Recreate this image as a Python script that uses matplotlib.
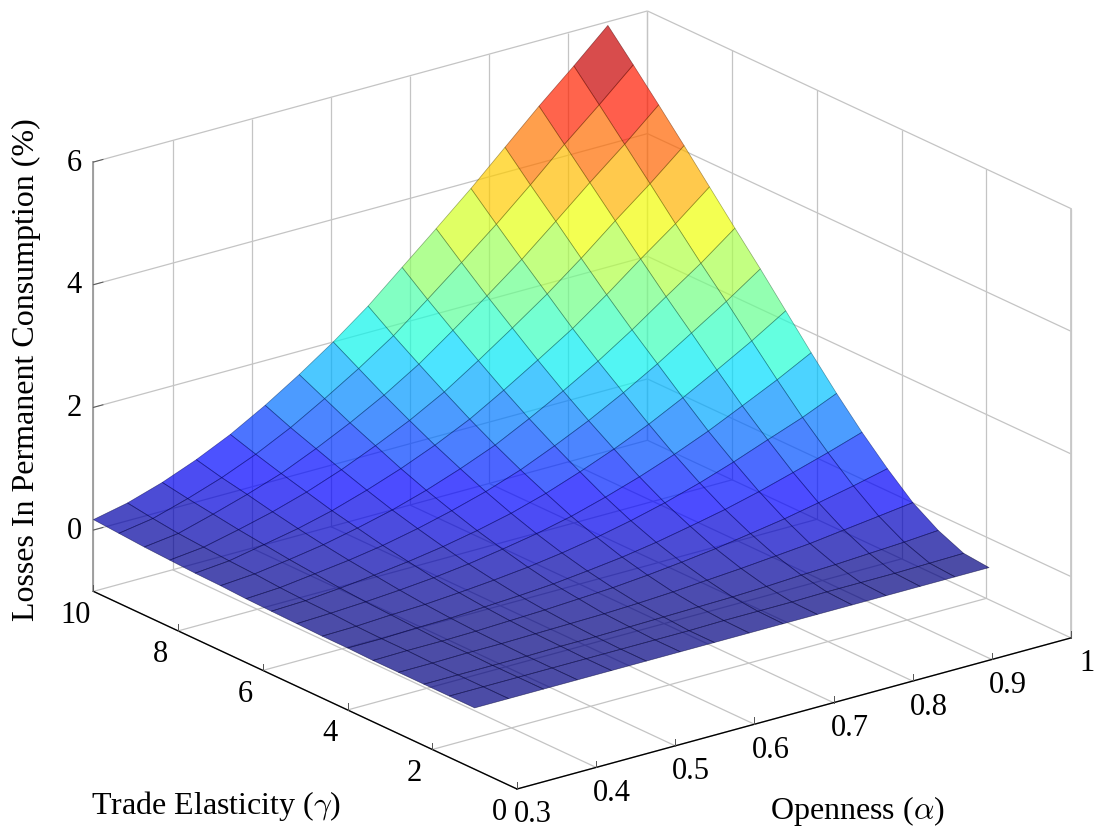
import numpy as np
import matplotlib
matplotlib.use("Agg")
import matplotlib.pyplot as plt
from mpl_toolkits.mplot3d import proj3d

alpha_nodes = [.300, .343, .387, .430, .473, .517, .560, .603, .647, .690, .733, .777, .820, .863, .907, .950]
gamma_nodes = [1.0, 1.6, 2.2, 2.8, 3.4, 4.0, 4.6, 5.2, 5.8, 6.4, 7.0, 7.6, 8.2, 8.8, 9.4, 10.0]

z00 = [0, 0, 0, 0, 0, .01, .01, .02, .03, .04, .06, .07, .09, .11, .14, .17]
z01 = [0, 0, 0, 0, .01, .01, .02, .04, .05, .07, .10, .12, .15, .18, .23, .29]
z02 = [0, 0, 0, .01, .01, .03, .05, .07, .10, .14, .18, .23, .28, .34, .40, .47]
z03 = [0, 0, 0, .01, .02, .04, .07, .11, .16, .21, .27, .34, .42, .51, .59, .69]
z04 = [0, 0, .01, .02, .04, .07, .11, .16, .23, .30, .39, .48, .59, .70, .82, .95]
z05 = [0, 0, .01, .03, .06, .10, .16, .23, .32, .42, .53, .66, .80, .95, 1.10, 1.27]
z06 = [0, 0, .02, .04, .09, .14, .22, .32, .43, .56, .70, .86, 1.04, 1.22, 1.42, 1.62]
z07 = [0, 0, .03, .06, .12, .20, .30, .42, .56, .72, .90, 1.09, 1.30, 1.52, 1.76, 2.00]
z08 = [0, .01, .04, .09, .17, .27, .40, .55, .73, .92, 1.13, 1.36, 1.61, 1.87, 2.14, 2.43]
z09 = [0, .01, .05, .13, .23, .36, .52, .71, .93, 1.16, 1.41, 1.68, 1.97, 2.27, 2.58, 2.91]
z10 = [0, .01, .07, .17, .30, .47, .66, .89, 1.15, 1.42, 1.71, 2.02, 2.35, 2.68, 3.03, 3.39]
z11 = [0, .02, .10, .22, .39, .59, .83, 1.10, 1.40, 1.72, 2.04, 2.38, 2.75, 3.12, 3.50, 3.89]
z12 = [0, .02, .12, .27, .48, .73, 1.02, 1.33, 1.68, 2.04, 2.40, 2.78, 3.18, 3.59, 3.99, 4.41]
z13 = [0, .02, .15, .34, .59, .89, 1.23, 1.59, 1.98, 2.39, 2.79, 3.21, 3.64, 4.07, 4.50, 4.93]
z14 = [0, .03, .18, .41, .71, 1.06, 1.44, 1.86, 2.30, 2.75, 3.18, 3.63, 4.09, 4.54, 4.99, 5.43]
z15 = [0, .04, .22, .48, .84, 1.24, 1.68, 2.15, 2.64, 3.13, 3.60, 4.08, 4.56, 5.03, 5.49, 5.94]

alpha_ticks = [.3, .4, .5, .6, .7, .8, .9, 1.0]
alpha_labels = ["0.3", "0.4", "0.5", "0.6", "0.7", "0.8", "0.9", "1"]
gamma_ticks = [0, 2, 4, 6, 8, 10]
gamma_labels = ["0", "2", "4", "6", "8", "10"]
z_ticks = [0, 2, 4, 6]
z_labels = ["0", "2", "4", "6"]

AMIN, AMAX, GMIN, GMAX, ZMIN, ZMAX = .3, 1.0, 0, 10, -1, 6
W, H = 1094, 833

plt.rcParams['font.family'] = ['Liberation Serif', 'DejaVu Serif']
plt.rcParams['mathtext.fontset'] = 'cm'

fig = plt.figure(figsize=(W / 100, H / 100), dpi=100, facecolor='white')
side = 2.0
ax = fig.add_axes([-.5, .5 - side * W / H / 2, side, side * W / H],
                  projection='3d', computed_zorder=False, proj_type='ortho')
ax.view_init(elev=20.9, azim=-127.4)
ax.set_xlim(AMIN, AMAX)
ax.set_ylim(GMIN, GMAX)
ax.set_zlim(ZMIN, ZMAX)
ax.set_box_aspect((698, 698, 460), zoom=1)
ax.set_axis_off()
ax.patch.set_alpha(0)


def px(x, y, z):
    xs, ys, _ = proj3d.proj_transform(x, y, z, ax.get_proj())
    return ax.transData.transform((xs, ys))


# calibrate scale and shift so the box corners land where the reference has them
fig.canvas.draw()
p0, p1 = px(AMIN, GMIN, ZMIN), px(AMAX, GMIN, ZMIN)
ax.set_box_aspect((698, 698, 460), zoom=np.hypot(554, 151) / np.hypot(*(p1 - p0)))
fig.canvas.draw()
p0 = px(AMIN, GMIN, ZMIN)
pos = ax.get_position(original=True)
ax.set_position([pos.x0 + (517 - p0[0]) / W, pos.y0 + ((H - 789) - p0[1]) / H, pos.width, pos.height])
fig.canvas.draw()

GRID = dict(color='#c4c4c4', lw=.9, zorder=1, solid_capstyle='butt')
for a in alpha_ticks:
    ax.plot([a, a], [GMIN, GMAX], [ZMIN, ZMIN], **GRID)
    ax.plot([a, a], [GMAX, GMAX], [ZMIN, ZMAX], **GRID)
for g in gamma_ticks:
    ax.plot([AMIN, AMAX], [g, g], [ZMIN, ZMIN], **GRID)
    ax.plot([AMAX, AMAX], [g, g], [ZMIN, ZMAX], **GRID)
for z in z_ticks:
    ax.plot([AMIN, AMAX], [GMAX, GMAX], [z, z], **GRID)
    ax.plot([AMAX, AMAX], [GMIN, GMAX], [z, z], **GRID)

ax.plot([AMIN, AMIN], [GMAX, GMAX], [ZMIN, ZMAX], color='#9a9a9a', lw=1.3, zorder=1.5)
ax.plot([AMAX, AMAX], [GMIN, GMIN], [ZMIN, ZMAX], color='#c8c8c8', lw=1.3, zorder=1.5)

Z = np.array([z00, z01, z02, z03, z04, z05, z06, z07, z08, z09, z10, z11, z12, z13, z14, z15])
X, Y = np.meshgrid(alpha_nodes, gamma_nodes, indexing='ij')
cell = (Z[:-1, :-1] + Z[1:, :-1] + Z[:-1, 1:] + Z[1:, 1:]) / 4
fc = plt.get_cmap('jet')(np.minimum(plt.Normalize(0, 5.68)(cell), .935))
fc[..., 3] = .7
surf = ax.plot_surface(X, Y, Z, rstride=1, cstride=1, facecolors=fc, shade=False, zorder=2)
ec = fc.reshape(-1, 4).copy()
ec[:, :3] *= .4
ec[:, 3] = .55
surf.set_edgecolor(ec)
surf.set_linewidth(.5)

ax.plot([AMIN, AMIN], [GMAX, GMIN], [ZMIN, ZMIN], color='black', lw=1.0, zorder=3)
ax.plot([AMIN, AMAX], [GMIN, GMIN], [ZMIN, ZMIN], color='black', lw=1.0, zorder=3)

TICK = dict(color='#555555', lw=.7, zorder=3)
for a in alpha_ticks:
    ax.plot([a, a], [GMIN, GMIN], [ZMIN, ZMIN + .11], **TICK)
for g in gamma_ticks:
    ax.plot([AMIN, AMIN], [g, g], [ZMIN, ZMIN + .11], **TICK)
for z in z_ticks:
    ax.plot([AMIN, AMIN + .012], [GMAX, GMAX], [z, z], **TICK)

TS = 22
def label(x, y, s, **kw):
    fig.text(x / W, 1 - y / H, s, fontsize=kw.pop('fontsize', TS), ha='center', va='center', **kw)

for a, s in zip(alpha_ticks, alpha_labels):
    p = px(a, GMIN, ZMIN)
    label(p[0] + 16, H - p[1] + 26, s)
for g, s in zip(gamma_ticks, gamma_labels):
    p = px(AMIN, g, ZMIN)
    label(p[0] - 18, H - p[1] + 24, s)
for z, s in zip(z_ticks, z_labels):
    p = px(AMIN, GMAX, z)
    label(p[0] - 19, H - p[1] + 1, s)

label(216, 806, 'Trade Elasticity ($\\gamma$)', fontsize=23)
label(857, 811, 'Openness ($\\alpha$)', fontsize=23)
label(26, 370, 'Losses In Permanent Consumption (%)', fontsize=23, rotation=90)

fig.savefig('out.png', dpi=100)
